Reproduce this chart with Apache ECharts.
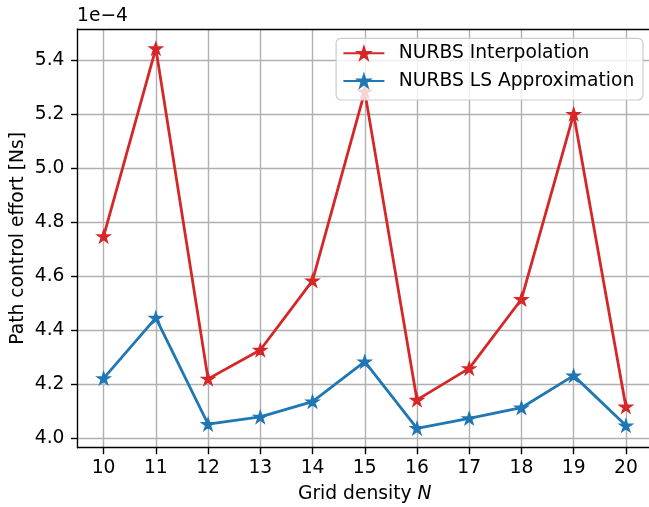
<!DOCTYPE html>
<html>
<head>
<meta charset="utf-8">
<script src="https://cdn.jsdelivr.net/npm/echarts@6/dist/echarts.min.js"></script>
<style>
  html, body { margin: 0; padding: 0; background: #fff; }
  #chart { width: 649px; height: 507px; }
</style>
</head>
<body>
<div id="chart"></div>
<script>
// Grid density values along the x axis
const gridDensity = [10, 11, 12, 13, 14, 15, 16, 17, 18, 19, 20];
// Path control effort, in units of 1e-4 Ns
const nurbsInterpolation = [4.748, 5.444, 4.220, 4.327, 4.584, 5.284, 4.142, 4.259, 4.515, 5.201, 4.117];
const nurbsLSApprox = [4.222, 4.446, 4.052, 4.079, 4.136, 4.284, 4.037, 4.074, 4.113, 4.232, 4.047];
// Tick positions
const yTicks = [4.0, 4.2, 4.4, 4.6, 4.8, 5.0, 5.2, 5.4];
const xTicks = gridDensity;

const FONT = 'DejaVu Sans';
const FS = 18.7;
const STAR = 'path://M0,-1 L0.2245,-0.309 L0.951,-0.309 L0.363,0.118 L0.588,0.809 L0,0.382 L-0.588,0.809 L-0.363,0.118 L-0.951,-0.309 L-0.2245,-0.309 Z';

const chart = echarts.init(document.getElementById('chart'), null, { renderer: 'canvas' });

function pairs(ys) {
  return gridDensity.map((x, i) => [x, ys[i]]);
}

const spine = { color: '#000', width: 1.4 };
const gridLine = { color: '#b0b0b0', width: 1.4 };

const option = {
  animation: false,
  backgroundColor: '#ffffff',
  textStyle: { fontFamily: FONT },
  grid: { left: 77.5, top: 29, width: 574.5, height: 418.7, containLabel: false, outerBoundsMode: 'none' },
  graphic: [{
    type: 'text', left: 77, top: 7,
    style: { text: '1e\u22124', font: FS + 'px "DejaVu Sans"', fill: '#000' }
  }],
  xAxis: [{
    type: 'value', min: 9.5, max: 20.5,
    name: '{n|Grid density }{i|N}', nameLocation: 'middle', nameGap: 37,
    nameTextStyle: {
      rich: {
        n: { fontFamily: FONT, fontSize: FS, color: '#000' },
        i: { fontFamily: FONT, fontSize: FS, color: '#000', fontStyle: 'italic' }
      }
    },
    axisLine: { show: true, onZero: false, lineStyle: spine },
    axisTick: { show: true, inside: false, length: 6.5, customValues: xTicks, lineStyle: spine },
    axisLabel: { customValues: xTicks, margin: 11, fontFamily: FONT, fontSize: FS, color: '#000' },
    splitLine: { show: true, lineStyle: gridLine }
  }, {
    // top frame edge
    type: 'value', position: 'top', min: 9.5, max: 20.5,
    axisLine: { show: true, onZero: false, lineStyle: spine },
    axisTick: { show: false }, axisLabel: { show: false }, splitLine: { show: false }
  }],
  yAxis: {
    type: 'value', min: 3.965, max: 5.516,
    name: 'Path control effort [Ns]', nameLocation: 'middle', nameGap: 50,
    nameMoveOverlap: false,
    nameTextStyle: { fontFamily: FONT, fontSize: FS, color: '#000' },
    axisLine: { show: true, onZero: false, lineStyle: spine },
    axisTick: { show: true, inside: false, length: 6.5, customValues: yTicks, lineStyle: spine },
    axisLabel: { customValues: yTicks, margin: 13, fontFamily: FONT, fontSize: FS, color: '#000',
      formatter: v => v.toFixed(1) },
    splitLine: { show: true, lineStyle: gridLine }
  },
  legend: {
    orient: 'vertical', right: 6, top: 38.3,
    itemWidth: 41, itemHeight: 15, itemGap: 5.7,
    padding: [4, 8.7, 8, 6.3],
    backgroundColor: 'rgba(255,255,255,0.8)',
    borderColor: '#cccccc', borderWidth: 1.2, borderRadius: 5,
    textStyle: { fontFamily: FONT, fontSize: FS, color: '#000', lineHeight: 22, padding: [0, 0, 0, 9.4] },
    data: ['NURBS Interpolation', 'NURBS LS Approximation']
  },
  series: [
    {
      name: 'NURBS Interpolation', type: 'line', data: pairs(nurbsInterpolation),
      symbol: STAR, symbolSize: 12, symbolKeepAspect: true, showAllSymbol: true,
      itemStyle: { color: '#d62728', borderColor: '#d62728', borderWidth: 1.6 },
      lineStyle: { color: '#d62728', width: 2.8 },
      z: 3
    },
    {
      name: 'NURBS LS Approximation', type: 'line', data: pairs(nurbsLSApprox),
      symbol: STAR, symbolSize: 12, symbolKeepAspect: true, showAllSymbol: true,
      itemStyle: { color: '#1f77b4', borderColor: '#1f77b4', borderWidth: 1.6 },
      lineStyle: { color: '#1f77b4', width: 2.8 },
      z: 2
    }
  ]
};

chart.setOption(option);
</script>
</body>
</html>
